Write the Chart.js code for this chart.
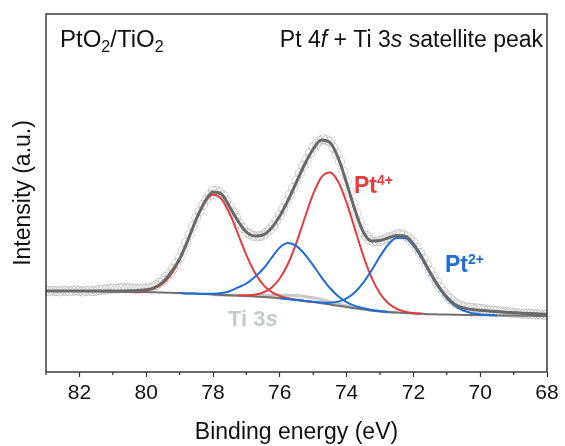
<!DOCTYPE html>
<html>
<head>
<meta charset="utf-8">
<title>PtO2/TiO2 Pt 4f + Ti 3s</title>
<script src="https://cdn.jsdelivr.net/npm/chart.js@4.4.0/dist/chart.umd.min.js"></script>
<style>
  html, body { margin: 0; padding: 0; background: #fff; }
  canvas { display: block; }
</style>
</head>
<body>
<canvas id="chart" width="565" height="446"></canvas>
<script>
// fitted curves, binding energy grid (eV)
const energy = [83, 82.75, 82.5, 82.25, 82, 81.75, 81.5, 81.25, 81, 80.75,
  80.5, 80.25, 80, 79.75, 79.5, 79.25, 79, 78.75, 78.5, 78.25,
  78, 77.75, 77.5, 77.25, 77, 76.75, 76.5, 76.25, 76, 75.75,
  75.5, 75.25, 75, 74.75, 74.5, 74.25, 74, 73.75, 73.5, 73.25,
  73, 72.75, 72.5, 72.25, 72, 71.75, 71.5, 71.25, 71, 70.75,
  70.5, 70.25, 70, 69.75, 69.5, 69.25, 69, 68.75, 68.5, 68.25, 68];

const background = [81, 81, 81, 81, 81, 80.8, 80.7, 80.6, 80.5, 80.3,
  80.2, 80.1, 80, 79.7, 79.5, 79.2, 79, 78.6, 78.3, 77.9,
  77.5, 77.1, 76.7, 76.4, 76, 75.5, 75, 74.4, 73.7, 72.9,
  72, 71, 70, 68.8, 67.5, 66.2, 65, 63.8, 62.7, 61.6,
  60.7, 60, 59.4, 58.9, 58.5, 58.2, 57.8, 57.6, 57.4, 57.2,
  57, 56.9, 56.8, 56.7, 56.6, 56.5, 56.4, 56.3, 56.2, 56.1, 56];

const envelope = [81, 81, 81, 81, 81, 81, 81, 81, 81, 81,
  81.2, 81.6, 82.2, 84.5, 90, 100, 113, 132, 153, 170,
  180, 178, 165, 151, 140, 136, 137, 144, 156, 172,
  190, 208, 223, 232, 229.5, 214, 189, 162, 140, 131,
  131.5, 134, 136.5, 136, 128, 115, 99.5, 86, 75, 67.5,
  64, 62.5, 61.8, 61, 60.4, 59.8, 59.3, 58.8, 58.4, 58.1, 57.8];

const N = null;
const pt4a = [N, N, N, N, N, N, N, N, N, N,
  80.4, 80.6, 81.6, 83.7, 88.7, 97.9, 112.5, 131.6, 152.4, 169.4,
  177.3, 173.2, 158.5, 137.9, 116.9, 99.5, 87.4, 80.1, 76, 73.7,
  72.2, 71.1, 70, N, N, N, N, N, N, N,
  N, N, N, N, N, N, N, N, N, N,
  N, N, N, N, N, N, N, N, N, N, N];

const pt4b = [N, N, N, N, N, N, N, N, N, N,
  N, N, N, N, N, N, N, N, N, N,
  N, N, N, 76.6, 76.7, 77.3, 79.5, 84.3, 93.5, 108.5,
  129.4, 154.3, 178.1, 194.9, 199.5, 190.2, 169.4, 142.9, 116.3, 94.3,
  78.5, 68.7, 63.2, 60.4, 59, 58.4, N, N, N, N,
  N, N, N, N, N, N, N, N, N, N, N];

const pt2a = [N, N, N, N, N, N, N, N, N, N,
  N, N, N, N, N, N, 79, 78.6, 78.4, 78.2,
  78.3, 79, 80.8, 84.6, 88.5, 95, 103, 114, 124.5, 128.9,
  125.8, 117.7, 106.6, 94.7, 84, 75.7, 69.9, 66.1, 63.7, 62,
  60.8, 60, N, N, N, N, N, N, N, N,
  N, N, N, N, N, N, N, N, N, N, N];

const pt2b = [N, N, N, N, N, N, N, N, N, N,
  N, N, N, N, N, N, N, N, N, N,
  N, N, N, N, N, N, N, N, 73.8, 73,
  72.1, 71.1, 70.3, 69.5, 69.3, 70.4, 73.6, 79.7, 89.3, 101.8,
  115.6, 127.5, 134.3, 134, 126.4, 113.6, 98.6, 84.7, 73.7, 66,
  61.3, 58.8, 57.6, 57, 56.6, N, N, N, N, N, N];

const ti3s = [N, N, N, N, N, N, N, N, N, N,
  N, N, N, N, N, N, N, N, N, N,
  77.5, 77.1, 76.8, 76.7, 76.5, 76.4, 76.5, 76.6, 76.8, 76.7,
  76.4, 75.5, 74.2, 72.4, 70.2, 68.1, 66.2, 64.5, 63.1, 61.8,
  60.8, 60, 59.4, N, N, N, N, N, N, N,
  N, N, N, N, N, N, N, N, N, N, N];

// measured points
const rawEnergy = [83, 82.9, 82.8, 82.7, 82.6, 82.5, 82.4, 82.3, 82.2, 82.1,
  82, 81.9, 81.8, 81.7, 81.6, 81.5, 81.4, 81.3, 81.2, 81.1,
  81, 80.9, 80.8, 80.7, 80.6, 80.5, 80.4, 80.3, 80.2, 80.1,
  80, 79.9, 79.8, 79.7, 79.6, 79.5, 79.4, 79.3, 79.2, 79.1,
  79, 78.9, 78.8, 78.7, 78.6, 78.5, 78.4, 78.3, 78.2, 78.1,
  78, 77.9, 77.8, 77.7, 77.6, 77.5, 77.4, 77.3, 77.2, 77.1,
  77, 76.9, 76.8, 76.7, 76.6, 76.5, 76.4, 76.3, 76.2, 76.1,
  76, 75.9, 75.8, 75.7, 75.6, 75.5, 75.4, 75.3, 75.2, 75.1,
  75, 74.9, 74.8, 74.7, 74.6, 74.5, 74.4, 74.3, 74.2, 74.1,
  74, 73.9, 73.8, 73.7, 73.6, 73.5, 73.4, 73.3, 73.2, 73.1,
  73, 72.9, 72.8, 72.7, 72.6, 72.5, 72.4, 72.3, 72.2, 72.1,
  72, 71.9, 71.8, 71.7, 71.6, 71.5, 71.4, 71.3, 71.2, 71.1,
  71, 70.9, 70.8, 70.7, 70.6, 70.5, 70.4, 70.3, 70.2, 70.1,
  70, 69.9, 69.8, 69.7, 69.6, 69.5, 69.4, 69.3, 69.2, 69.1,
  69, 68.9, 68.8, 68.7, 68.6, 68.5, 68.4, 68.3, 68.2, 68.1, 68];

const raw = [81.5, 80.8, 81.3, 81.0, 80.6, 81.4, 81.1, 80.7, 81.2, 81.6,
  81.0, 80.5, 81.1, 81.4, 80.9, 81.3, 81.8, 82.2, 82.6, 83.0,
  83.4, 83.2, 83.6, 84.0, 83.5, 83.8, 83.4, 83.0, 83.2, 83.6,
  83.5, 84.4, 85.5, 87.0, 89.2, 91.0, 94.8, 98.6, 103.2, 108.5,
  113.8, 121.5, 129.4, 137.5, 145.8, 154.2, 160.8, 167.2, 172.6, 177.0,
  181.2, 180.8, 179.8, 176.5, 171.0, 165.5, 159.6, 154.0, 148.6, 144.0,
  139.5, 138.0, 136.2, 135.6, 136.0, 136.6, 139.4, 142.4, 146.5, 151.6,
  156.8, 163.4, 170.0, 177.0, 184.0, 191.4, 198.8, 206.0, 212.6, 218.8,
  224.6, 228.0, 231.4, 232.8, 231.8, 230.2, 224.4, 218.4, 210.4, 200.6,
  190.6, 179.8, 168.8, 158.6, 149.4, 140.0, 136.0, 132.2, 130.4, 130.6,
  131.0, 132.2, 133.6, 134.9, 136.2, 137.4, 137.6, 137.2, 135.6, 132.4,
  129.4, 124.2, 119.0, 113.4, 107.2, 100.8, 95.4, 89.8, 84.8, 80.4,
  76.0, 73.0, 70.2, 68.0, 66.6, 65.3, 64.6, 64.2, 63.8, 63.6,
  63.2, 62.8, 62.2, 61.6, 61.3, 60.9, 60.6, 60.2, 59.8, 59.5,
  59.1, 58.8, 58.5, 58.3, 58.2, 58.0, 57.8, 57.6, 57.5, 57.4, 57.3];

const minorTicks = [83, 81, 79, 77, 75, 73, 71, 69];

const FONT = "'Liberation Sans', Arial, sans-serif";
const RED = 'rgb(232,58,60)';
const BLUE = 'rgb(32,108,214)';

const pairs = ys => energy.map((x, i) => ({x: x, y: ys[i]}));

// draws a run of text pieces side by side: [text, font, dy]
function richText(ctx, x, y, parts, align) {
  const widths = parts.map(p => { ctx.font = p[1]; return ctx.measureText(p[0]).width; });
  let cx = align === 'right' ? x - widths.reduce((a, b) => a + b, 0) : x;
  parts.forEach((p, i) => {
    ctx.font = p[1];
    ctx.fillText(p[0], cx, y + (p[2] || 0));
    cx += widths[i];
  });
}

const decorations = {
  id: 'decorations',
  afterDraw(chart) {
    const {ctx, chartArea: a} = chart;
    const x = chart.scales.x;
    ctx.save();

    ctx.strokeStyle = '#333';
    ctx.lineWidth = 1.2;
    minorTicks.forEach(v => {
      const px = x.getPixelForValue(v);
      ctx.beginPath();
      ctx.moveTo(px, a.bottom);
      ctx.lineTo(px, a.bottom + 3);
      ctx.stroke();
    });

    ctx.strokeStyle = '#3a3a3a';
    ctx.lineWidth = 1.5;
    ctx.strokeRect(a.left, a.top, a.right - a.left, a.bottom - a.top);

    ctx.textBaseline = 'alphabetic';
    ctx.fillStyle = '#111';
    const reg = '23px ' + FONT, it = 'italic 23px ' + FONT;
    richText(ctx, 60, 47, [['PtO', '24px ' + FONT], ['2', '16px ' + FONT, 5], ['/TiO', '24px ' + FONT], ['2', '16px ' + FONT, 5]]);
    richText(ctx, 543, 47, [['Pt 4', reg], ['f', it], [' + Ti 3', reg], ['s', it], [' satellite peak', reg]], 'right');

    const bold = 'bold 23px ' + FONT, sup = 'bold 14px ' + FONT;
    ctx.fillStyle = RED;
    richText(ctx, 354, 193, [['Pt', bold], ['4+', sup, -8]]);
    ctx.fillStyle = BLUE;
    richText(ctx, 445, 272, [['Pt', bold], ['2+', sup, -8]]);
    ctx.fillStyle = 'rgb(196,202,202)';
    richText(ctx, 228, 326, [['Ti 3', 'bold 22px ' + FONT], ['s', 'italic bold 22px ' + FONT]]);

    ctx.restore();
  }
};

Chart.defaults.font.family = FONT;

new Chart(document.getElementById('chart'), {
  type: 'line',
  data: {
    datasets: [
      {label: 'Envelope', data: pairs(envelope), borderColor: 'rgb(104,104,104)', borderWidth: 3},
      {label: 'Pt2+ 4f7/2', data: pairs(pt2b), borderColor: BLUE, borderWidth: 2},
      {label: 'Pt2+ 4f5/2', data: pairs(pt2a), borderColor: BLUE, borderWidth: 2},
      {label: 'Pt4+ 4f7/2', data: pairs(pt4b), borderColor: RED, borderWidth: 2},
      {label: 'Pt4+ 4f5/2', data: pairs(pt4a), borderColor: RED, borderWidth: 2},
      {label: 'Background', data: pairs(background), borderColor: 'rgb(112,112,112)', borderWidth: 2},
      {label: 'Ti 3s', data: pairs(ti3s), borderColor: 'rgb(200,200,200)', borderWidth: 3},
      {label: 'Raw', data: rawEnergy.map((x, i) => ({x: x, y: raw[i]})), showLine: false,
        pointRadius: 4.6, pointBorderWidth: 1,
        pointBorderColor: 'rgba(160,160,160,0.5)', pointBackgroundColor: 'rgba(0,0,0,0)'}
    ]
  },
  options: {
    responsive: false,
    animation: false,
    devicePixelRatio: 1,
    layout: {padding: {top: 14, right: 18, left: 0, bottom: 0}},
    plugins: {legend: {display: false}, tooltip: {enabled: false}},
    elements: {
      point: {radius: 0},
      line: {cubicInterpolationMode: 'monotone', fill: false}
    },
    scales: {
      x: {
        type: 'linear', min: 68, max: 83, reverse: true,
        afterFit: s => { s.height = 74; },
        border: {display: false},
        grid: {
          drawOnChartArea: false, tickLength: 5, tickWidth: 1.2,
          tickColor: c => (c.tick && c.tick.value % 2 !== 0) ? 'rgba(0,0,0,0)' : '#333'
        },
        ticks: {
          stepSize: 1, padding: 4, color: '#111', autoSkip: false, maxRotation: 0,
          font: {size: 21},
          callback: v => (v % 2 === 0 ? String(v) : '')
        },
        title: {display: true, text: 'Binding energy (eV)', color: '#111',
          font: {size: 23}, padding: {top: 0, bottom: 0}}
      },
      y: {
        min: 0, max: 358,
        afterFit: s => { s.width = 46; },
        border: {display: false},
        grid: {display: false},
        ticks: {display: false},
        title: {display: true, text: 'Intensity (a.u.)', color: '#111',
          font: {size: 23}, padding: {top: 10, bottom: 0}}
      }
    }
  },
  plugins: [decorations]
});
</script>
</body>
</html>
